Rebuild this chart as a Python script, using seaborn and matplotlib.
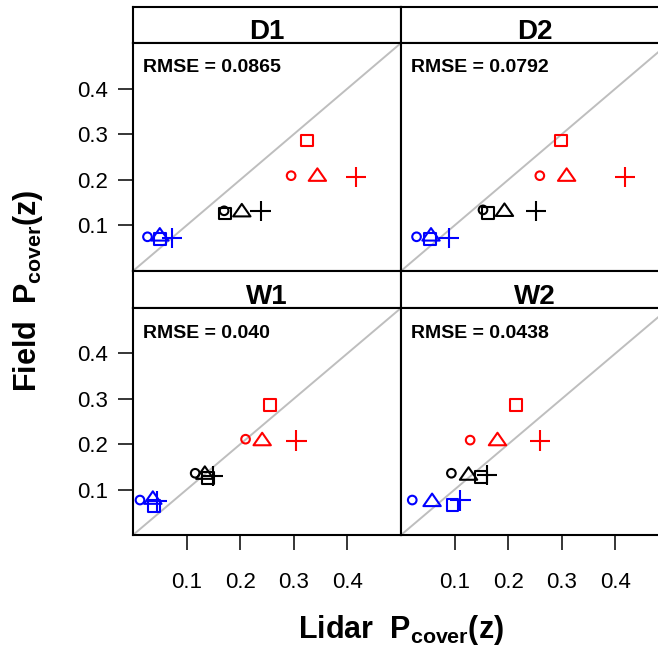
import matplotlib
matplotlib.use("Agg")
import matplotlib.pyplot as plt
import numpy as np
import pandas as pd
import seaborn as sns
from matplotlib.path import Path

# ---------------- data ----------------
panels = ["D1", "D2", "W1", "W2"]
rmse_labels = ["RMSE = 0.0865", "RMSE = 0.0792", "RMSE = 0.040", "RMSE = 0.0438"]

strata = ["upper"] * 4 + ["middle"] * 4 + ["lower"] * 4
shapes = ["circle", "square", "triangle", "plus"] * 3

lidar_D1 = [0.295, 0.325, 0.344, 0.416, 0.170, 0.172, 0.203, 0.238, 0.027, 0.050, 0.050, 0.072]
field_D1 = [0.209, 0.286, 0.208, 0.206, 0.132, 0.126, 0.130, 0.131, 0.075, 0.070, 0.077, 0.073]

lidar_D2 = [0.259, 0.298, 0.309, 0.418, 0.153, 0.163, 0.193, 0.252, 0.029, 0.054, 0.056, 0.090]
field_D2 = [0.209, 0.286, 0.208, 0.206, 0.134, 0.128, 0.131, 0.132, 0.075, 0.070, 0.077, 0.073]

lidar_W1 = [0.210, 0.256, 0.241, 0.305, 0.116, 0.140, 0.134, 0.150, 0.013, 0.039, 0.037, 0.044]
field_W1 = [0.211, 0.286, 0.208, 0.208, 0.136, 0.125, 0.134, 0.130, 0.077, 0.064, 0.079, 0.075]

lidar_W2 = [0.129, 0.215, 0.180, 0.259, 0.094, 0.150, 0.126, 0.161, 0.021, 0.096, 0.058, 0.111]
field_W2 = [0.209, 0.286, 0.208, 0.208, 0.136, 0.127, 0.132, 0.132, 0.077, 0.066, 0.074, 0.076]

lidar_vals = {"D1": lidar_D1, "D2": lidar_D2, "W1": lidar_W1, "W2": lidar_W2}
field_vals = {"D1": field_D1, "D2": field_D2, "W1": field_W1, "W2": field_W2}

tick_vals = [0.1, 0.2, 0.3, 0.4]
tick_labels = ["0.1", "0.2", "0.3", "0.4"]

frames = []
for p in panels:
    frames.append(pd.DataFrame({"panel": p, "stratum": strata, "shape": shapes,
                                "lidar": lidar_vals[p], "field": field_vals[p]}))
df = pd.concat(frames, ignore_index=True)

# ---------------- style ----------------
sns.set_theme(style="white")
plt.rcParams["font.family"] = ["Liberation Sans", "DejaVu Sans"]
plt.rcParams["mathtext.fontset"] = "custom"
plt.rcParams["mathtext.bf"] = "Liberation Sans:bold"
plt.rcParams["mathtext.rm"] = "Liberation Sans"
plt.rcParams["mathtext.it"] = "Liberation Sans:italic"
plt.rcParams["xtick.bottom"] = True
plt.rcParams["ytick.left"] = True

palette = {"upper": "#FF0000", "middle": "#000000", "lower": "#0000FF"}
tri_path = Path([(-1.0, -0.54), (1.0, -0.54), (0.0, 0.9), (-1.0, -0.54)],
                [Path.MOVETO, Path.LINETO, Path.LINETO, Path.CLOSEPOLY])
plus_path = Path([(-1, 0), (1, 0), (0, -1), (0, 1)],
                 [Path.MOVETO, Path.LINETO, Path.MOVETO, Path.LINETO])
markers = {"circle": "o", "square": "s", "triangle": tri_path, "plus": plus_path}
sizes = {"circle": 6.2 ** 2, "square": 8.5 ** 2, "triangle": 12.5 ** 2, "plus": 14.5 ** 2}
shape_order = ["circle", "square", "triangle", "plus"]

W, H = 658, 650
fig = plt.figure(figsize=(W / 100, H / 100), dpi=100)


def fx(px):
    return px / W


def fy(py):
    return 1 - py / H


col_x = [133, 401]
pw = 268
rows = [(7, 43, 271), (271, 308, 535)]

for i, p in enumerate(panels):
    r, c = divmod(i, 2)
    st_top, p_top, p_bot = rows[r]
    x0 = col_x[c]
    sax = fig.add_axes([fx(x0), fy(p_top), pw / W, (p_top - st_top) / H])
    ax = fig.add_axes([fx(x0), fy(p_bot), pw / W, (p_bot - p_top) / H])

    # strip
    sax.set_xticks([])
    sax.set_yticks([])
    sax.set_facecolor("white")
    for s in sax.spines.values():
        s.set_color("black")
        s.set_linewidth(1.5)
    sax.text(0.5, 0.115, p, transform=sax.transAxes, ha="center", va="baseline",
             fontsize=20, fontweight="bold", color="black")

    # panel
    ax.axline((0, 0), (0.5, 0.5), color="#BEBEBE", lw=1.4, zorder=1)
    d = df[df["panel"] == p]
    sns.scatterplot(data=d, x="lidar", y="field", hue="stratum", style="shape",
                    size="shape", palette=palette, markers=markers, sizes=sizes,
                    style_order=shape_order, size_order=shape_order,
                    legend=False, ax=ax, linewidth=1.5, zorder=3)
    coll = ax.collections[-1]
    fc = coll.get_facecolors().copy()
    coll.set_edgecolors(fc)
    coll.set_facecolors("none")
    coll.set_linewidths(1.5)

    ax.set_xlim(0, 0.5)
    ax.set_ylim(0, 0.5)
    ax.set_xlabel("")
    ax.set_ylabel("")
    ax.set_xticks(tick_vals)
    ax.set_xticklabels(tick_labels)
    ax.set_yticks(tick_vals)
    ax.set_yticklabels(tick_labels)
    ax.tick_params(direction="out", length=10.8, width=1.1, color="black",
                   labelcolor="black", labelsize=16, bottom=True, left=True,
                   top=False, right=False)
    ax.tick_params(axis="x", pad=16)
    ax.tick_params(axis="y", pad=7)
    if c == 1:
        ax.tick_params(axis="y", left=False, labelleft=False)
    if r == 0:
        ax.tick_params(axis="x", bottom=False, labelbottom=False)
    for s in ax.spines.values():
        s.set_color("black")
        s.set_linewidth(1.5)
    ax.text(10 / pw, 1 - 29.5 / (p_bot - p_top), rmse_labels[i], transform=ax.transAxes,
            ha="left", va="baseline", fontsize=14, fontweight="bold", color="black")

fig.text(fx(401), fy(638), r"Lidar  $\mathbf{P}_{\mathbf{cover}}\mathbf{(z)}$",
         ha="center", va="baseline", fontsize=22, fontweight="bold", color="black")
fig.text(fx(28), fy(291), r"Field  $\mathbf{P}_{\mathbf{cover}}\mathbf{(z)}$",
         ha="center", va="center", rotation=90, fontsize=22, fontweight="bold",
         color="black")

fig.savefig("out.png", dpi=100, facecolor="white")
